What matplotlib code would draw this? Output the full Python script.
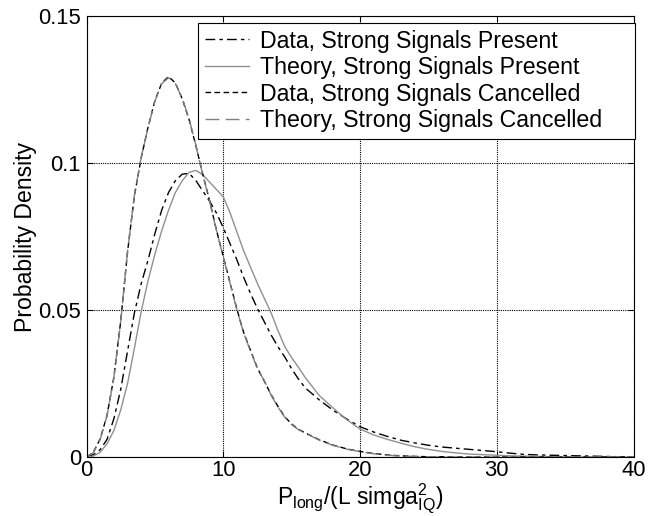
import matplotlib
matplotlib.use("Agg")
import matplotlib.pyplot as plt

plt.rcParams['font.family'] = ['Liberation Sans', 'DejaVu Sans']
plt.rcParams['mathtext.fontset'] = 'custom'
plt.rcParams['mathtext.rm'] = 'Liberation Sans'
plt.rcParams['mathtext.it'] = 'Liberation Sans'

# ---- data ----
x = [0, 0.5, 1, 1.5, 2, 2.5, 3, 3.5, 4, 4.5, 5, 5.5, 6, 6.5, 7, 7.5, 8, 8.5, 9, 9.5,
     10, 10.5, 11, 11.5, 12, 12.5, 13, 13.5, 14, 14.5, 15, 15.5, 16,
     17, 18, 19, 20, 21, 22, 23, 24, 25, 26, 27, 28, 29, 30,
     31, 32, 33, 34, 35, 36, 37, 38, 39, 40]

data_present = [0, 0.0008, 0.0025, 0.006, 0.013, 0.023, 0.036, 0.049, 0.059, 0.067,
                0.076, 0.084, 0.090, 0.094, 0.0962, 0.0965, 0.094, 0.0905, 0.087, 0.083,
                0.078, 0.0725, 0.067, 0.061, 0.0555, 0.0505, 0.046, 0.0415, 0.0375, 0.034,
                0.030, 0.0265, 0.0235,
                0.0195, 0.016, 0.013, 0.0103, 0.0085, 0.0070, 0.0057, 0.0048, 0.0040,
                0.0034, 0.0030, 0.0026, 0.0022, 0.0018,
                0.0013, 0.0009, 0.0007, 0.0006, 0.0005, 0.0004, 0.0003, 0.0002, 0.0001, 0.0001]

theory_present = [0, 0.0003, 0.0016, 0.0045, 0.009, 0.016, 0.025, 0.037, 0.0495, 0.060,
                  0.069, 0.077, 0.084, 0.090, 0.094, 0.0968, 0.0975, 0.096, 0.0935, 0.091,
                  0.0885, 0.083, 0.0765, 0.070, 0.0645, 0.059, 0.054, 0.049, 0.043, 0.0375,
                  0.0338, 0.0305, 0.027,
                  0.021, 0.0168, 0.0128, 0.0095, 0.0075, 0.0060, 0.0047, 0.0035, 0.0026,
                  0.0019, 0.0014, 0.0010, 0.0008, 0.0006,
                  0.0004, 0.0003, 0.0002, 0.0001, 0.0001, 0, 0, 0, 0, 0]

data_cancelled = [0, 0.0016, 0.0062, 0.0142, 0.0272, 0.0462, 0.0698, 0.0888, 0.1018, 0.1122,
                  0.1212, 0.1272, 0.1294, 0.1272, 0.1218, 0.1148, 0.1058, 0.0962, 0.0872, 0.0772,
                  0.0682, 0.0592, 0.0502, 0.0422, 0.0362, 0.0302, 0.0258, 0.0212, 0.0172, 0.0137,
                  0.0112, 0.0094, 0.0082,
                  0.0059, 0.0041, 0.0028, 0.0019, 0.0012, 0.0007, 0.0004, 0.0002, 0.0001,
                  0.0001, 0, 0, 0, 0,
                  0, 0, 0, 0, 0, 0, 0, 0, 0, 0]

theory_cancelled = [0, 0.0015, 0.006, 0.014, 0.027, 0.046, 0.070, 0.089, 0.102, 0.112,
                    0.121, 0.127, 0.129, 0.127, 0.122, 0.115, 0.106, 0.096, 0.087, 0.077,
                    0.068, 0.059, 0.050, 0.042, 0.036, 0.030, 0.026, 0.021, 0.017, 0.0135,
                    0.011, 0.0093, 0.0081,
                    0.0058, 0.0040, 0.0027, 0.0018, 0.0011, 0.0006, 0.0003, 0.0002, 0.0001,
                    0, 0, 0, 0, 0,
                    0, 0, 0, 0, 0, 0, 0, 0, 0, 0]

labels = ['Data, Strong Signals Present', 'Theory, Strong Signals Present',
          'Data, Strong Signals Cancelled', 'Theory, Strong Signals Cancelled']
xticks = [0, 10, 20, 30, 40]
yticks = [0, 0.05, 0.1, 0.15]
yticklabels = ['0', '0.05', '0.1', '0.15']

FS_TICK = 15.8
FS_LAB = 16.6
FS_LEG = 16.7

fig = plt.figure(figsize=(6.62, 5.16), dpi=100)
ax = fig.add_axes([0.1307, 0.1143, 0.957 - 0.1307, 0.969 - 0.1143])

ax.plot(x, data_present, color='black', lw=1.0, linestyle=(0, (7, 3, 2.5, 3)), label=labels[0])
ax.plot(x, theory_present, color='#909090', lw=1.0, linestyle='-', label=labels[1])
ax.plot(x, data_cancelled, color='black', lw=1.0, linestyle=(0, (4, 2.5)), label=labels[2])
ax.plot(x, theory_cancelled, color='#808080', lw=1.0, linestyle=(0, (10, 4.5)), label=labels[3])

ax.set_xlim(0, 40)
ax.set_ylim(0, 0.15)
ax.set_xticks(xticks)
ax.set_xticklabels([str(t) for t in xticks])
ax.set_yticks(yticks)
ax.set_yticklabels(yticklabels)
ax.tick_params(direction='in', length=4, width=0.75, labelsize=FS_TICK, pad=4,
               top=True, right=True)
ax.tick_params(axis='x', pad=2.5)
ax.grid(True, color='black', linestyle=(0, (1, 1)), linewidth=0.8)
for s in ax.spines.values():
    s.set_linewidth(0.8)
    s.set_color('black')

ax.set_xlabel(r'P$_{\mathrm{long}}$/(L simga$^{2}_{\mathrm{IQ}}$)', fontsize=16.5, labelpad=0.5)
ax.set_ylabel('Probability Density', fontsize=FS_LAB, labelpad=1)

leg = ax.legend(loc='upper right', bbox_to_anchor=(1.0025, 0.985), borderaxespad=0,
                fontsize=FS_LEG, frameon=True, fancybox=False, framealpha=1,
                edgecolor='black', handlelength=1.9, handletextpad=0.5,
                labelspacing=0.15, borderpad=0.3)
leg.get_frame().set_linewidth(0.8)
# MATLAB-style extra right padding inside the legend box
for t in leg.get_texts():
    t.set_text(t.get_text() + '    ')

fig.savefig('out.png', dpi=100)
